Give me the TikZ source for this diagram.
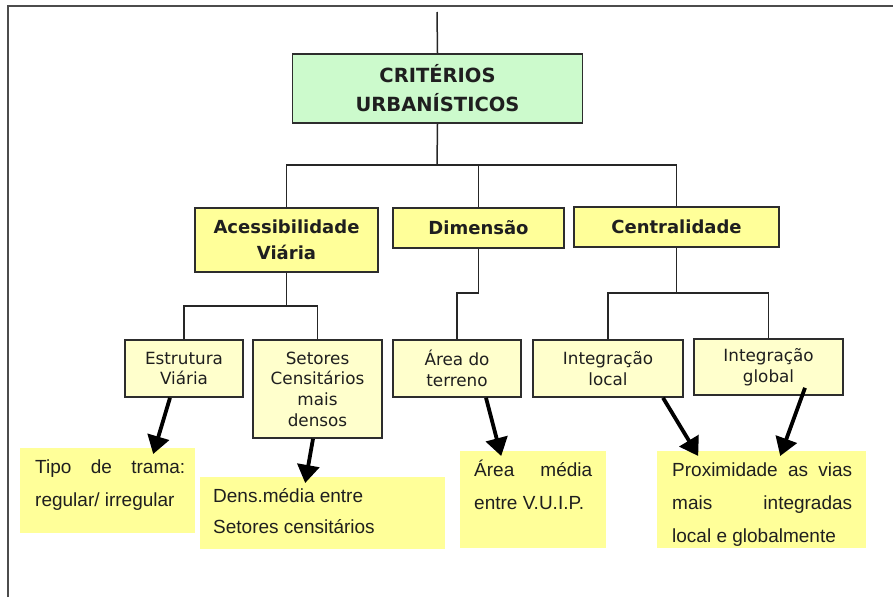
\documentclass[tikz,border=0pt]{standalone}
\usepackage{fontspec}
\setmainfont{Liberation Sans}
\newfontfamily\boxfont{DejaVu Sans}
\usetikzlibrary{arrows.meta,calc}
\definecolor{rootgreen}{RGB}{204,250,204}
\definecolor{midyellow}{RGB}{255,255,153}
\definecolor{smallyellow}{RGB}{255,255,204}
\definecolor{noteyellow}{RGB}{255,255,153}
\definecolor{edgegray}{RGB}{45,45,45}
\tikzset{
  boxbase/.style={draw=edgegray, line width=1.6pt, inner sep=0pt, align=center, text=black!88},
  rootbox/.style={boxbase, fill=rootgreen, font=\boxfont\bfseries\fontsize{19.5}{29}\selectfont},
  midbox/.style={boxbase, fill=midyellow, font=\boxfont\bfseries\fontsize{18}{26}\selectfont},
  smallbox/.style={boxbase, fill=smallyellow, font=\boxfont\fontsize{16.8}{20.7}\selectfont},
  notebox/.style={fill=noteyellow, inner sep=0pt, anchor=north west, text=black!88},
  link/.style={line width=1.5pt, draw=black!85},
  bigarrow/.style={line width=3.8pt, -{Triangle[length=18pt,width=22pt]}},
  frameline/.style={line width=2pt, draw=black!70}
}
\newcommand{\notetext}[5]{\parbox[c][#2pt][t]{#1pt}{\fontsize{19}{#3}\selectfont\hspace*{#4pt}#5}}
\begin{document}
\begin{tikzpicture}[x=1pt,y=-1pt]
\useasboundingbox (0,0) rectangle (893,597);
% frame
\coordinate (fl) at (8,597);
\coordinate (fc) at (8,6);
\coordinate (fr) at (893,6);
\draw[frameline] (fl) -- (fc) -- (fr);

% nodes
\node[rootbox, minimum width=290pt, minimum height=69pt] (root) at (437.5,88.5) {CRITÉRIOS\\URBANÍSTICOS};
\node[midbox, minimum width=183pt, minimum height=64pt] (acc) at (286.5,240) {Acessibilidade\\Viária};
\node[midbox, minimum width=171pt, minimum height=40pt] (dim) at (478.5,228) {Dimensão};
\node[midbox, minimum width=205pt, minimum height=40pt] (cen) at (676.5,227) {Centralidade};

\node[smallbox, minimum width=118pt, minimum height=57pt] (estr) at (184,368.5) {Estrutura\\Viária};
\node[smallbox, minimum width=129pt, minimum height=98pt] (seto) at (317.5,389) {Setores\\Censitários\\mais\\densos};
\node[smallbox, minimum width=128pt, minimum height=57pt] (area) at (457,368.5) {Área do\\terreno};
\node[smallbox, minimum width=150pt, minimum height=57pt] (intl) at (608,368.5) {Integração\\local};
\node[smallbox, minimum width=149pt, minimum height=56pt] (intg) at (768.5,367) {Integração\\global};

% note boxes
\node[notebox] (tipo) at (20,448) {\notetext{175}{85}{33}{15}{\rule{0pt}{25pt}\makebox[150pt][s]{Tipo de trama:}\\\hspace*{15pt}regular/ irregular}};
\node[notebox] (dens) at (200,477) {\notetext{245}{72}{31}{13}{\rule{0pt}{25pt}Dens.média entre\\\hspace*{13pt}Setores censitários}};
\node[notebox] (amed) at (460,451) {\notetext{146}{97}{33}{14}{\rule{0pt}{25pt}\makebox[118pt][s]{Área média}\\\hspace*{14pt}entre V.U.I.P.}};
\node[notebox] (prox) at (657,451) {\notetext{209}{97}{33}{15}{\rule{0pt}{25pt}\makebox[180pt][s]{Proximidade as vias}\\\hspace*{15pt}\makebox[180pt][s]{mais integradas}\\\hspace*{15pt}local e globalmente}};

% tree connectors
\coordinate (topend) at (437,12);
\draw[link] (topend) -- (root.north);
\coordinate (j1) at (437,165);
\draw[link] (root.south) -- (j1);
\draw[link] (acc.north) |- (j1);
\draw[link] (cen.north) |- (j1);
\draw[link] (dim.north) -- (dim.north |- j1);

\coordinate (j2) at (286.5,306);
\draw[link] (acc.south) -- (j2);
\draw[link] (estr.north) |- (j2);
\draw[link] (seto.north) |- (j2);

\coordinate (j3) at (478.5,293);
\draw[link] (dim.south) -- (j3) -| (area.north);

\coordinate (j4) at (676.5,293);
\draw[link] (cen.south) -- (j4);
\draw[link] (intl.north) |- (j4);
\draw[link] (intg.north) |- (j4);

% arrows
\draw[bigarrow] ([xshift=-14pt]estr.south) -- ([xshift=45.5pt,yshift=-6pt]tipo.north);
\draw[bigarrow] ([xshift=-4.5pt]seto.south) -- ([xshift=-17.5pt,yshift=-6pt]dens.north);
\draw[bigarrow] ([xshift=29pt]area.south) -- ([xshift=-32pt,yshift=-5pt]amed.north);
\draw[bigarrow] ([xshift=55pt]intl.south) -- ([xshift=-63.5pt,yshift=-5pt]prox.north);
\draw[bigarrow] ([xshift=36.5pt,yshift=8pt]intg.south) -- ([xshift=18.5pt,yshift=-5pt]prox.north);
\end{tikzpicture}
\end{document}
